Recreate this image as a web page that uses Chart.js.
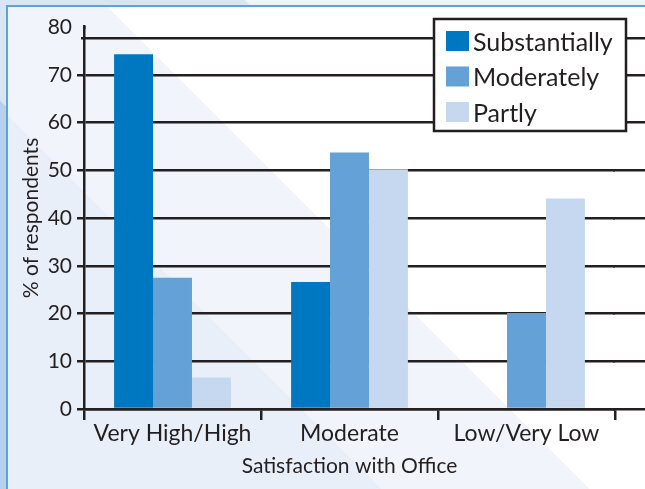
<!DOCTYPE html>
<html>
<head>
<meta charset="utf-8">
<script src="https://cdn.jsdelivr.net/npm/chart.js@4.4.1/dist/chart.umd.min.js"></script>
<style>
  html, body { margin: 0; padding: 0; }
  body {
    width: 645px; height: 489px; overflow: hidden; position: relative;
    background: linear-gradient(225deg, #eef4fb 0px, #eef4fb 283px, #d7e5f5 283px, #d7e5f5 527px, #b6d0ee 527px);
  }
  #frame {
    position: absolute; left: 6px; top: 5px; right: 0; bottom: 0;
    border-left: 2px solid #58a4dc; border-top: 2px solid #58a4dc;
    background: linear-gradient(225deg, #ffffff 0px, #ffffff 380px, #f1f5fb 380px, #f1f5fb 527px, #e9eff8 527px);
  }
  #chart { position: absolute; left: 0; top: 0; }
</style>
</head>
<body>
<div id="frame"></div>
<canvas id="chart" width="645" height="489"></canvas>
<script>
// satisfaction with office, % of respondents
const categories = ['Very High/High', 'Moderate', 'Low/Very Low'];
const seriesNames = ['Substantially', 'Moderately', 'Partly'];
const substantially = [74.3, 26.6, 0];
const moderately = [27.5, 53.7, 20.1];
const partly = [6.6, 50.2, 44.1];
const yMin = 0;
const yMax = 80;
const yStep = 10;
const topRuleValue = 77.6; // the odd top rule sits a bit under the 80 label

const colors = ['#0078c1', '#63a1d6', '#c5d8ef'];
const ink = '#231f20';
const fontFamily = 'Lato, "Open Sans", sans-serif';
const ruleWidth = 2.5;

Chart.defaults.font.family = fontFamily;
Chart.defaults.color = ink;

// same pixel snapping chart.js uses for its grid lines
function snap(px) {
    const half = ruleWidth / 2;
    return Math.round(px - half) + half;
}

// extends grid rules to the right edge and adds the top rule
const extraRules = {
    id: 'extraRules',
    beforeDatasetsDraw(chart) {
        const ctx = chart.ctx;
        const area = chart.chartArea;
        const y = chart.scales.y;
        ctx.save();
        ctx.strokeStyle = ink;
        ctx.lineWidth = ruleWidth;
        y.ticks.forEach(t => {
            if (t.value === yMax) return;
            const py = snap(y.getPixelForValue(t.value));
            ctx.beginPath();
            ctx.moveTo(area.right - 2, py);
            ctx.lineTo(chart.width, py);
            ctx.stroke();
        });
        const ty = snap(y.getPixelForValue(topRuleValue));
        ctx.beginPath();
        ctx.moveTo(area.left - 3, ty);
        ctx.lineTo(chart.width, ty);
        ctx.stroke();
        // axis line reaches slightly above the plot
        const ax = snap(area.left);
        ctx.beginPath();
        ctx.moveTo(ax, area.top - 2);
        ctx.lineTo(ax, area.top + 2);
        ctx.stroke();
        ctx.restore();
    }
};

// boxed legend inside the plot, top right
const boxLegend = {
    id: 'boxLegend',
    afterDraw(chart) {
        const ctx = chart.ctx;
        const bx = 434, by = 19, bw = 192, bh = 112;
        ctx.save();
        ctx.fillStyle = '#ffffff';
        ctx.fillRect(bx, by, bw, bh);
        ctx.strokeStyle = ink;
        ctx.lineWidth = ruleWidth;
        ctx.strokeRect(bx, by, bw, bh);
        ctx.font = '25px ' + fontFamily;
        ctx.textBaseline = 'alphabetic';
        chart.data.datasets.forEach((ds, i) => {
            const top = by + 12 + i * 35.5;
            ctx.fillStyle = ds.backgroundColor;
            ctx.fillRect(bx + 12, top, 23, 20);
            ctx.fillStyle = ink;
            ctx.fillText(ds.label, bx + 39, top + 19.5);
        });
        ctx.restore();
    }
};

const yTicks = [];
for (let v = yMin; v <= yMax; v += yStep) yTicks.push(v);

new Chart(document.getElementById('chart'), {
    type: 'bar',
    data: {
        labels: categories,
        datasets: [
            { label: seriesNames[0], data: substantially, backgroundColor: colors[0] },
            { label: seriesNames[1], data: moderately, backgroundColor: colors[1] },
            { label: seriesNames[2], data: partly, backgroundColor: colors[2] }
        ]
    },
    options: {
        responsive: false,
        animation: false,
        layout: { padding: { top: 27, right: 30, left: 0, bottom: 0 } },
        datasets: { bar: { categoryPercentage: 0.66, barPercentage: 1.0, borderWidth: 0 } },
        plugins: { legend: { display: false }, tooltip: { enabled: false } },
        scales: {
            x: {
                grid: {
                    offset: true,
                    drawOnChartArea: false,
                    tickLength: 11,
                    lineWidth: ruleWidth,
                    color: ink
                },
                border: { color: ink, width: ruleWidth },
                ticks: { font: { size: 23 }, color: ink, padding: 0, maxRotation: 0 },
                title: {
                    display: true,
                    text: 'Satisfaction with Office',
                    font: { size: 21 },
                    color: ink,
                    padding: { top: 0, bottom: 10 }
                },
                afterFit(scale) { scale.height = 80; }
            },
            y: {
                min: yMin,
                max: yMax,
                afterBuildTicks(scale) { scale.ticks = yTicks.map(v => ({ value: v })); },
                grid: {
                    tickLength: 7,
                    lineWidth: ruleWidth,
                    color: ctx => (ctx.tick && ctx.tick.value === yMax) ? 'rgba(0,0,0,0)' : ink
                },
                border: { color: ink, width: ruleWidth },
                ticks: { font: { size: 21 }, color: ink, padding: 5 },
                title: {
                    display: true,
                    text: '% of respondents',
                    font: { size: 21 },
                    color: ink,
                    padding: { top: 19, bottom: 0 }
                },
                afterFit(scale) { scale.width = 84; }
            }
        }
    },
    plugins: [extraRules, boxLegend]
});
</script>
</body>
</html>
